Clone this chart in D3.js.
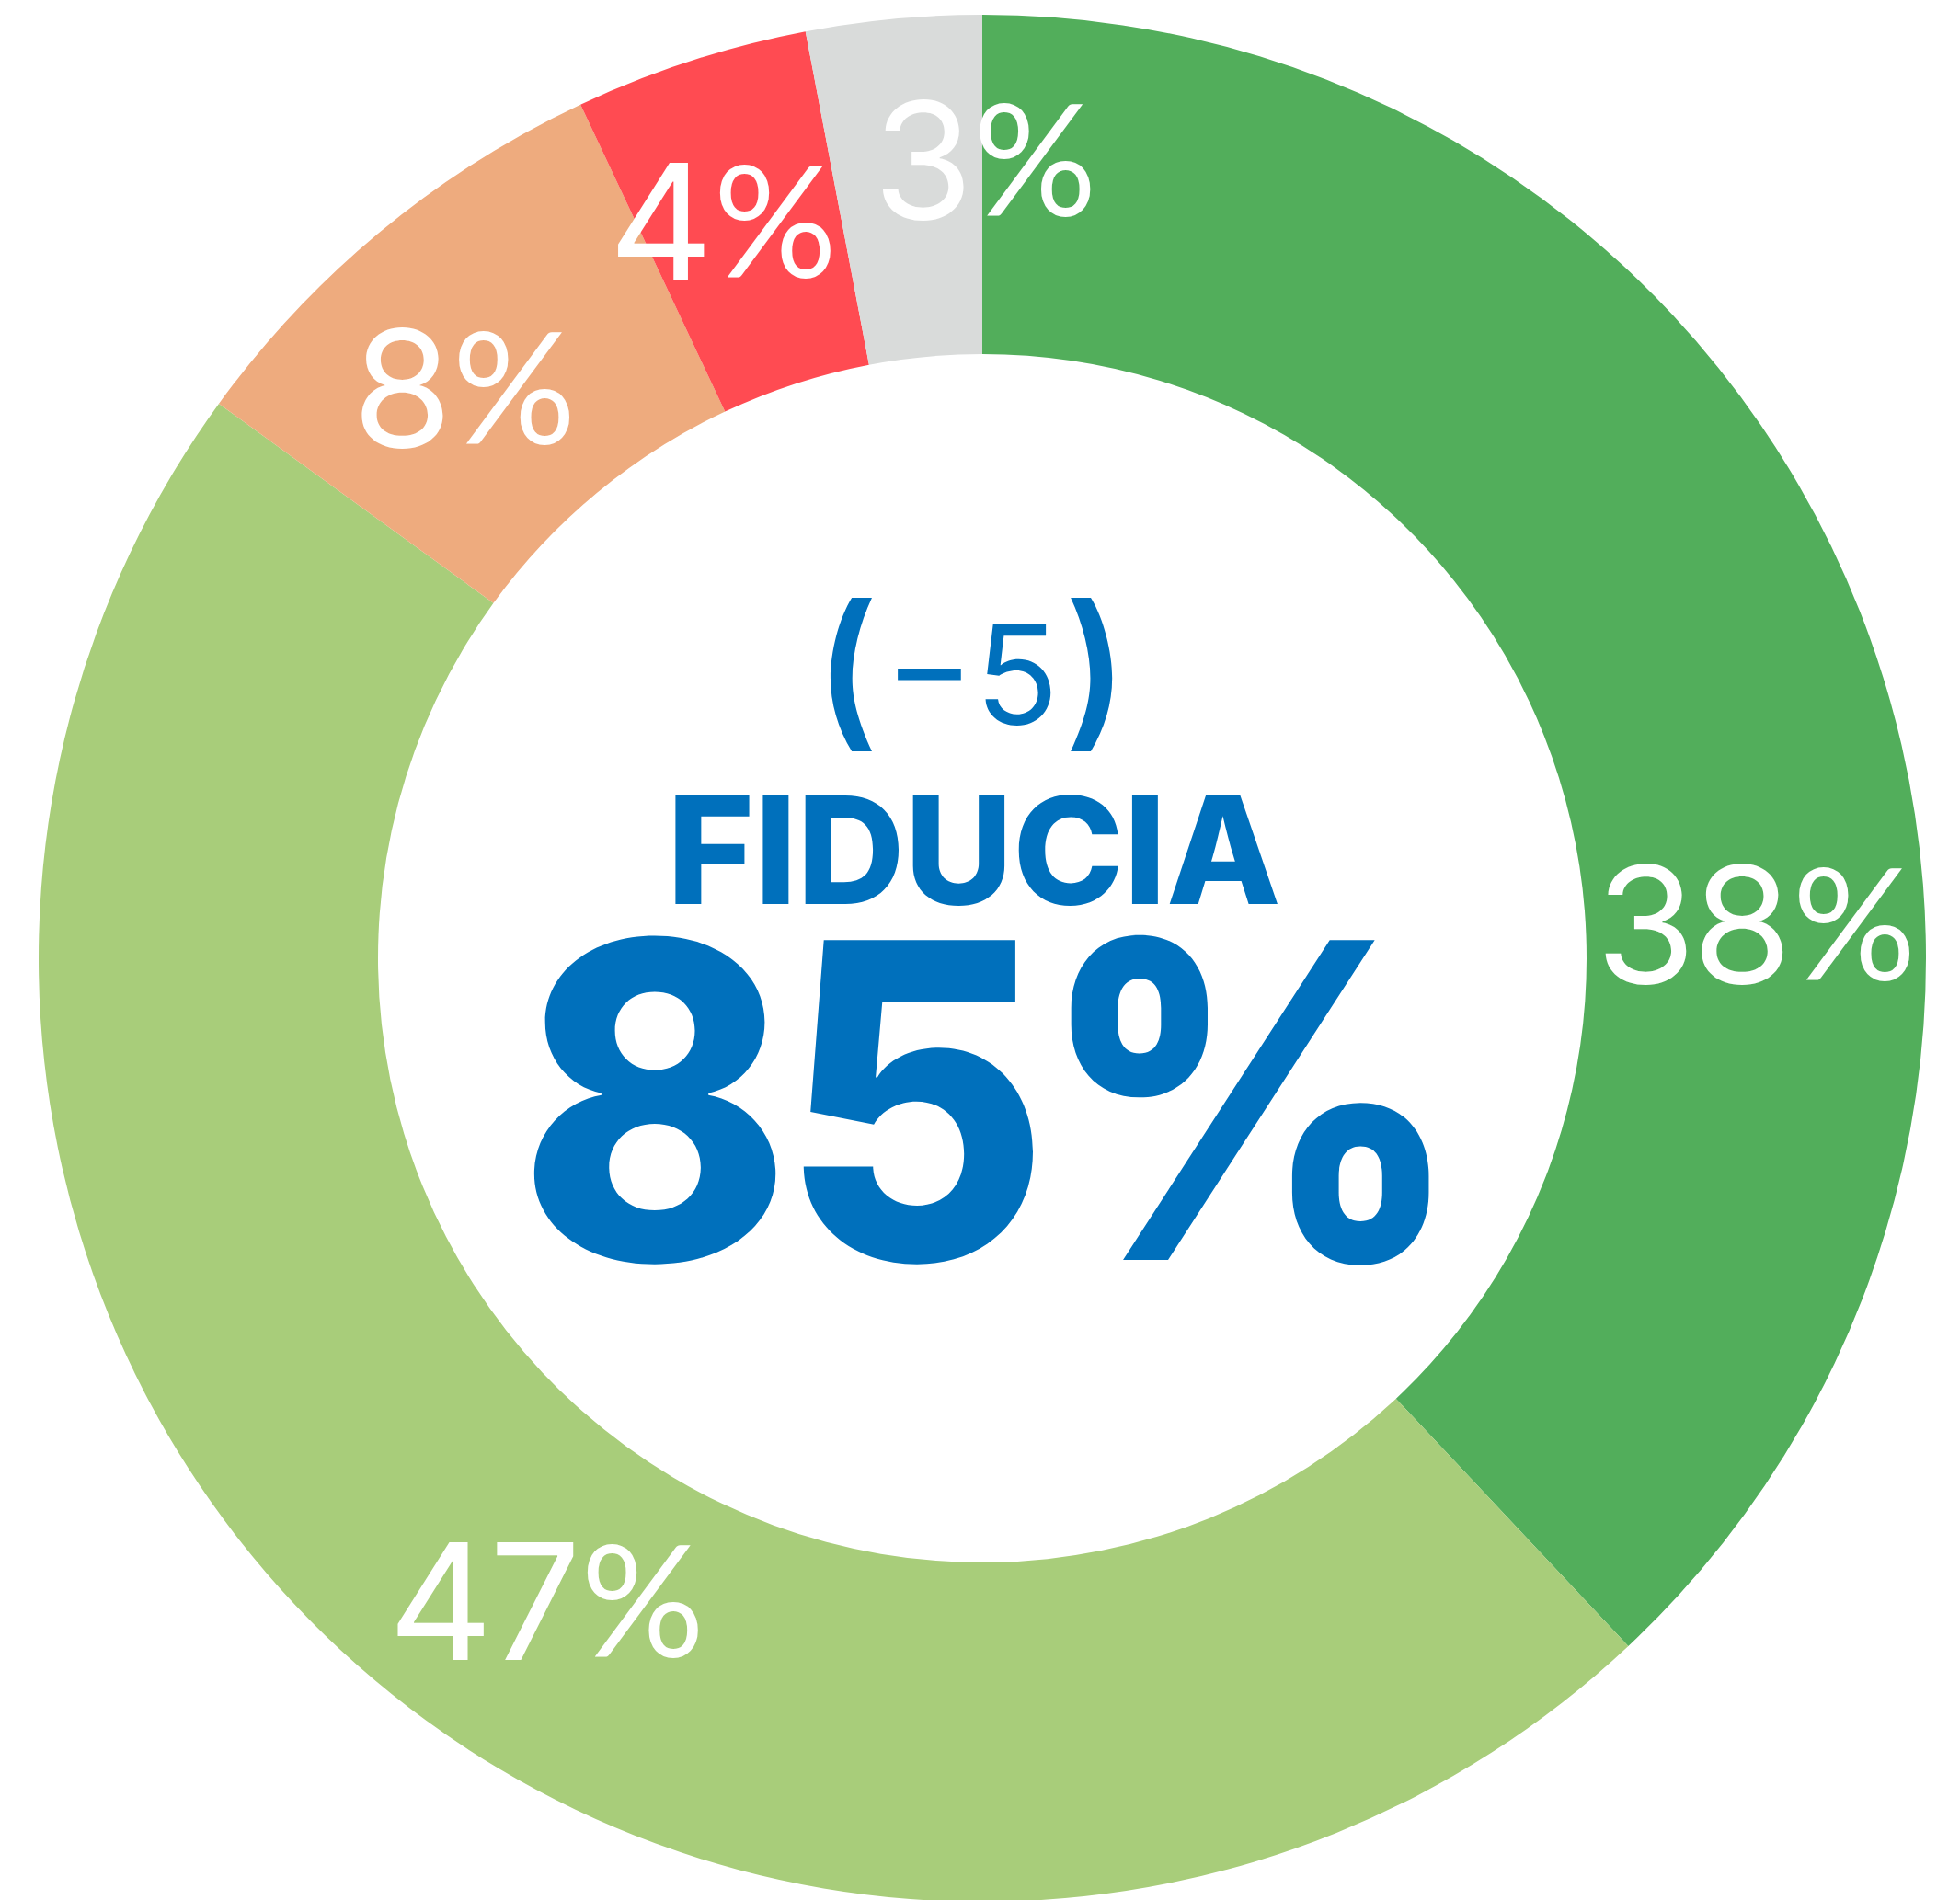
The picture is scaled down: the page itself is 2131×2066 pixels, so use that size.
<!DOCTYPE html>
<meta charset="utf-8">
<style>
  body { margin: 0; background: #fff; }
  text { font-family: Inter, Roboto, "Open Sans", sans-serif; }
</style>
<body></body>
<script src="https://d3js.org/d3.v7.min.js"></script>
<script>
  // slices, clockwise from 12 o'clock
  var categories = ["a", "b", "c", "d", "e"];
  var values = [38, 47, 8, 4, 3];
  var labels = ["38", "47", "8", "4", "3"];
  var colors = ["#52ae5b", "#a8cd7a", "#eeab7e", "#ff4b52", "#d9dbda"];
  var headline = "85%";
  var title = "FIDUCIA";
  var deltaValue = "\u22125";

  var width = 2131, height = 2066;
  var cx = 1068, cy = 1042, outerR = 1026, innerR = 657;
  // label spots (deg clockwise from top, radius) - hand placed in the original
  var labelAngles = [87.5, 214.1, 317.7, 340.6, 0.2];
  var labelRadii = [842, 845, 837, 849, 867];

  var blue = "#0070bc";

  var svg = d3.select("body").append("svg")
    .attr("width", width)
    .attr("height", height);

  var g = svg.append("g")
    .attr("transform", "translate(" + cx + "," + cy + ")");

  var pie = d3.pie().sort(null).value(function(d) { return d; });
  var arc = d3.arc().innerRadius(innerR).outerRadius(outerR);
  var arcs = pie(values);

  g.selectAll("path.slice")
    .data(arcs)
    .enter().append("path")
    .attr("class", "slice")
    .attr("fill", function(d, i) { return colors[i]; })
    .attr("d", arc);

  // percentage labels: number + percent sign
  arcs.forEach(function(d, i) {
    var a = labelAngles[i] * Math.PI / 180;
    var pos = g.append("g")
      .attr("transform", "translate(" + (labelRadii[i] * Math.sin(a)) + "," + (-labelRadii[i] * Math.cos(a)) + ")");
    var inner = pos.append("g");
    var num = inner.append("text")
      .attr("dy", "0.36em")
      .style("font-size", "176px")
      .style("font-weight", 400)
      .style("letter-spacing", "-4px")
      .style("fill", "#fff")
      .text(labels[i]);
    var w = num.node().getComputedTextLength();
    inner.append("text")
      .attr("x", w + 4)
      .attr("dy", "0.36em")
      .style("font-family", "Lato, sans-serif")
      .style("font-size", "168px")
      .style("font-weight", 400)
      .style("fill", "#fff")
      .text("%");
    var bb = inner.node().getBBox();
    inner.attr("transform", "translate(" + (-(bb.x + bb.width / 2)) + ",0)");
  });

  // centre text
  var delta = g.append("text")
    .attr("x", -12).attr("y", 788 - cy)
    .attr("text-anchor", "middle")
    .style("font-size", "150px")
    .style("font-weight", 400)
    .style("fill", blue);
  delta.append("tspan")
    .attr("dy", 4)
    .style("font-size", "184px")
    .style("font-weight", 600)
    .text("(");
  delta.append("tspan")
    .attr("dy", -4)
    .attr("dx", 6)
    .text(deltaValue);
  delta.append("tspan")
    .attr("dy", 4)
    .attr("dx", 6)
    .style("font-size", "184px")
    .style("font-weight", 600)
    .text(")");

  g.append("text")
    .attr("x", -9).attr("y", 983 - cy)
    .attr("text-anchor", "middle")
    .style("font-size", "162px")
    .style("font-weight", 800)
    .style("fill", blue)
    .text(title);

  g.append("text")
    .attr("transform", "translate(2," + (1370 - cy) + ") scale(0.94,1)")
    .attr("text-anchor", "middle")
    .style("font-size", "478px")
    .style("font-weight", 800)
    .style("letter-spacing", "-14px")
    .style("fill", blue)
    .text(headline);
</script>
